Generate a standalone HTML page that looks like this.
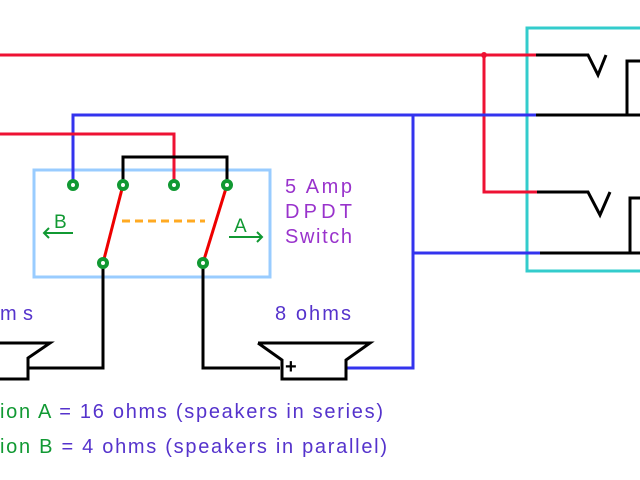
<html><body style="margin:0;width:640px;height:480px;background:#fff;overflow:hidden">
<svg width="640" height="480" style="position:absolute;left:0;top:0" font-family="Liberation Sans, sans-serif">
<g fill="none" stroke-width="3">
<rect x="527" y="28" width="130" height="243" stroke="#33cccc"/>
<rect x="34" y="170" width="236" height="107" stroke="#99ccff"/>
<polyline points="0,55 536,55" stroke="#ee1133"/>
<polyline points="536,55 588,55 598,75 606,55" stroke="#000"/>
<polyline points="640,61 627,61 627,115" stroke="#000"/>
<polyline points="484,55 484,192 537,192" stroke="#ee1133"/>
<polyline points="537,192 588,192 600,215 610,192" stroke="#000"/>
<polyline points="640,198 630,198 630,253" stroke="#000"/>
<polyline points="73,185 73,115 536,115" stroke="#3333ee"/>
<line x1="536" y1="115" x2="640" y2="115" stroke="#000"/>
<polyline points="413,115 413,368 345,368" stroke="#3333ee"/>
<line x1="413" y1="253" x2="540" y2="253" stroke="#3333ee"/>
<line x1="540" y1="253" x2="640" y2="253" stroke="#000"/>
<polyline points="0,134 174,134 174,185" stroke="#ee1133"/>
<polyline points="123,185 123,157 227,157 227,185" stroke="#000"/>
<line x1="123" y1="185" x2="103" y2="263" stroke="#ee0000"/>
<line x1="227" y1="185" x2="203" y2="263" stroke="#ee0000"/>
<line x1="122" y1="221" x2="205" y2="221" stroke="#ffaa22" stroke-dasharray="8,5"/>
<polyline points="103,263 103,368 28,368" stroke="#000"/>
<polyline points="203,263 203,368 280,368" stroke="#000"/>
<polyline points="0,343 50,343 28,358 28,379 0,379" stroke="#000"/>
<polyline points="258,343 370,343 346,360 346,379 282,379 282,360 258,343" stroke="#000"/>
<g stroke="#119933" stroke-width="2"><line x1="44" y1="233" x2="73" y2="233"/><polyline points="49,228 44,233 49,238"/><line x1="229" y1="237" x2="262" y2="237"/><polyline points="257,232 262,237 257,242"/></g>
</g>
<g fill="#fff" stroke="#119933" stroke-width="4">
<circle cx="73" cy="185" r="4"/><circle cx="123" cy="185" r="4"/><circle cx="174" cy="185" r="4"/><circle cx="227" cy="185" r="4"/><circle cx="103" cy="263" r="4"/><circle cx="203" cy="263" r="4"/>
</g>
<circle cx="484" cy="55" r="3" fill="#ee1133"/>
<text x="285" y="373" font-size="20" font-weight="bold">+</text>
<g font-size="19" fill="#119933"><text x="54" y="228">B</text><text x="234" y="232">A</text></g>
<g font-size="20" fill="#9933cc"><text x="285" y="193" textLength="67">5 Amp</text><text x="285" y="218" textLength="67">DPDT</text><text x="285" y="243" textLength="67">Switch</text></g>
<g font-size="20" fill="#5533cc"><text x="0" y="320" textLength="33">ms</text><text x="275" y="320" textLength="76">8 ohms</text>
<text x="0" y="418" textLength="383"><tspan fill="#119933">ion A</tspan> = 16 ohms (speakers in series)</text>
<text x="0" y="453" textLength="387"><tspan fill="#119933">ion B</tspan> = 4 ohms (speakers in parallel)</text></g>
</svg></body></html>
